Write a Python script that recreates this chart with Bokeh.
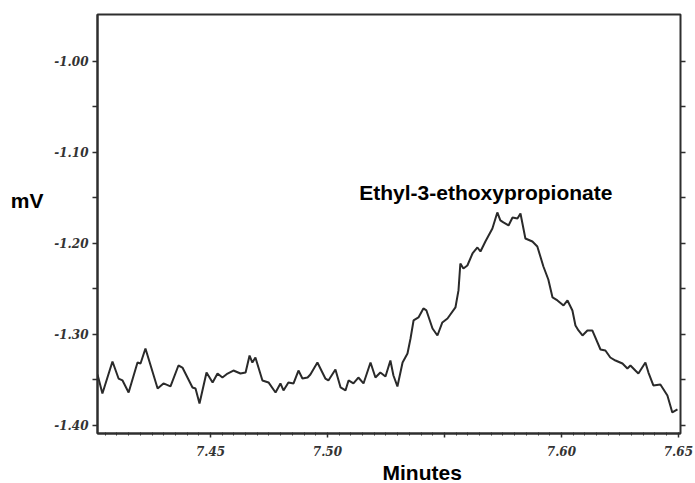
import numpy as np
from bokeh.plotting import figure
from bokeh.models import Range1d, FixedTicker, LinearAxis, Label, Title, CustomJSTickFormatter
from bokeh.embed import file_html
from bokeh.resources import INLINE

# ---- data ----
time_min = [
    7.4017, 7.4038, 7.4081, 7.4107, 7.4124, 7.4150, 7.4188, 7.4201, 7.4222, 7.4235,
    7.4274, 7.4299, 7.4329, 7.4363, 7.4380, 7.4423, 7.4436, 7.4453, 7.4483, 7.4509,
    7.4530, 7.4551, 7.4573, 7.4598, 7.4628, 7.4650, 7.4667, 7.4679, 7.4692, 7.4705,
    7.4722, 7.4748, 7.4778, 7.4799, 7.4812, 7.4833, 7.4855, 7.4876, 7.4893, 7.4915,
    7.4927, 7.4957, 7.4991, 7.5004, 7.5034, 7.5056, 7.5077, 7.5090, 7.5111, 7.5132,
    7.5154, 7.5184, 7.5205, 7.5226, 7.5248, 7.5269, 7.5282, 7.5299, 7.5321, 7.5342,
    7.5355, 7.5368, 7.5389, 7.5410, 7.5423, 7.5449, 7.5470, 7.5491, 7.5513, 7.5547,
    7.5560, 7.5568, 7.5581, 7.5598, 7.5620, 7.5641, 7.5654, 7.5675, 7.5705, 7.5726,
    7.5739, 7.5752, 7.5774, 7.5791, 7.5812, 7.5825, 7.5846, 7.5876, 7.5897, 7.5923,
    7.5944, 7.5962, 7.5983, 7.6009, 7.6026, 7.6047, 7.6060, 7.6073, 7.6090, 7.6111,
    7.6132, 7.6167, 7.6188, 7.6209, 7.6231, 7.6261, 7.6282, 7.6295, 7.6316, 7.6329,
    7.6359, 7.6372, 7.6393, 7.6423, 7.6453, 7.6474, 7.6496,
]
signal_mv = [
    -1.3440, -1.3648, -1.3297, -1.3484, -1.3505, -1.3637, -1.3308, -1.3319, -1.3154, -1.3264,
    -1.3593, -1.3538, -1.3571, -1.3341, -1.3363, -1.3582, -1.3593, -1.3758, -1.3418, -1.3527,
    -1.3429, -1.3473, -1.3429, -1.3396, -1.3429, -1.3418, -1.3231, -1.3308, -1.3253, -1.3363,
    -1.3505, -1.3527, -1.3637, -1.3538, -1.3615, -1.3527, -1.3538, -1.3396, -1.3484, -1.3473,
    -1.3440, -1.3308, -1.3484, -1.3505, -1.3385, -1.3582, -1.3615, -1.3505, -1.3538, -1.3473,
    -1.3538, -1.3308, -1.3473, -1.3418, -1.3462, -1.3286, -1.3451, -1.3571, -1.3308, -1.3209,
    -1.3044, -1.2846, -1.2813, -1.2714, -1.2736, -1.2934, -1.3011, -1.2868, -1.2824, -1.2703,
    -1.2516, -1.2220, -1.2275, -1.2242, -1.2110, -1.2044, -1.2088, -1.1978, -1.1835, -1.1659,
    -1.1747, -1.1769, -1.1802, -1.1714, -1.1725, -1.1670, -1.1945, -1.1978, -1.2033, -1.2253,
    -1.2396, -1.2593, -1.2626, -1.2681, -1.2626, -1.2736, -1.2901, -1.2956, -1.3011, -1.2956,
    -1.2956, -1.3165, -1.3176, -1.3253, -1.3286, -1.3319, -1.3374, -1.3341, -1.3396, -1.3429,
    -1.3308, -1.3418, -1.3560, -1.3549, -1.3670, -1.3857, -1.3824,
]
y_tick_values = [-1.00, -1.10, -1.20, -1.30, -1.40]
y_tick_labels = ["-1.00", "-1.10", "-1.20", "-1.30", "-1.40"]
x_tick_values = [7.45, 7.50, 7.55, 7.60, 7.65]
x_tick_labels = ["7.45", "7.50", "", "7.60", "7.65"]
peak_name = "Ethyl-3-ethoxypropionate"
x_title = "Minutes"
y_title = "mV"

AX = "#2e2e2e"
TICK_FONT = "DejaVu Serif"
LABEL_FONT = "Liberation Sans"

p = figure(width=695, height=483, output_backend="svg", toolbar_location=None,
           x_range=Range1d(7.4017, 7.6509), y_range=Range1d(-1.4088, -0.9484),
           min_border_left=97, min_border_right=15, min_border_top=14, min_border_bottom=50,
           x_axis_type=None, y_axis_type=None)
p.background_fill_color = "white"
p.border_fill_color = "white"
p.outline_line_color = AX
p.outline_line_width = 2
p.xgrid.visible = False
p.ygrid.visible = False

p.line(time_min, signal_mv, line_color="#2a2a2a", line_width=2)

def fmt(tvals, tlabels):
    return CustomJSTickFormatter(args=dict(tvals=tvals, tlabels=tlabels), code="""
        for (let i = 0; i < tvals.length; i++) {
            if (Math.abs(tvals[i] - tick) < 1e-9) return tlabels[i];
        }
        return "";
    """)

# left axis
ly = LinearAxis(ticker=FixedTicker(ticks=y_tick_values,
                                   minor_ticks=list(np.round(np.arange(-1.45, -0.95, 0.1), 2))),
                formatter=fmt(y_tick_values, y_tick_labels))
ly.axis_line_color = AX
ly.axis_line_width = 2
ly.major_tick_line_color = AX
ly.major_tick_line_width = 1.5
ly.major_tick_out = 5
ly.major_tick_in = 0
ly.minor_tick_line_color = AX
ly.minor_tick_line_width = 1.5
ly.minor_tick_out = 5
ly.minor_tick_in = 0
ly.major_label_standoff = 4
ly.major_label_text_font = TICK_FONT
ly.major_label_text_font_style = "bold italic"
ly.major_label_text_font_size = "12px"
ly.major_label_text_color = "#333333"
p.add_layout(ly, "left")

# right axis (ticks only)
ry = LinearAxis(ticker=FixedTicker(ticks=list(np.round(np.arange(-1.40, -0.99, 0.05), 2))),
                formatter=fmt([], []))
ry.axis_line_color = None
ry.major_tick_line_color = AX
ry.major_tick_line_width = 1.5
ry.major_tick_out = 5
ry.major_tick_in = 0
ry.minor_tick_line_color = None
ry.major_label_standoff = 0
p.add_layout(ry, "right")

# bottom axis
bx = LinearAxis(ticker=FixedTicker(ticks=x_tick_values,
                                   minor_ticks=list(np.round(np.arange(7.405, 7.651, 0.005), 3))),
                formatter=fmt(x_tick_values, x_tick_labels))
bx.axis_line_color = AX
bx.axis_line_width = 2
bx.major_tick_line_color = AX
bx.major_tick_line_width = 1.5
bx.major_tick_out = 4
bx.major_tick_in = 0
bx.minor_tick_line_color = AX
bx.minor_tick_line_width = 1
bx.minor_tick_out = 2
bx.minor_tick_in = 1
bx.major_label_standoff = 8
bx.major_label_text_font = TICK_FONT
bx.major_label_text_font_style = "bold italic"
bx.major_label_text_font_size = "12px"
bx.major_label_text_color = "#333333"
p.add_layout(bx, "below")

p.add_layout(Title(text=x_title, align="left", offset=285, standoff=0,
                   text_font=LABEL_FONT, text_font_style="bold", text_font_size="21px",
                   text_color="black"), "below")

# y-axis title, placed in the left side panel so it is not clipped to the frame
p.add_layout(Label(x=7.3716, y=-1.1527, text=y_title, text_font=LABEL_FONT,
                   text_font_style="bold", text_font_size="21px", text_color="black",
                   text_align="center", text_baseline="alphabetic"), "left")

p.add_layout(Label(x=7.5677, y=-1.1440, text=peak_name, text_font=LABEL_FONT,
                   text_font_style="bold", text_font_size="21px", text_color="black",
                   text_align="center", text_baseline="alphabetic"))

open("out.html", "w").write(file_html(p, INLINE))
